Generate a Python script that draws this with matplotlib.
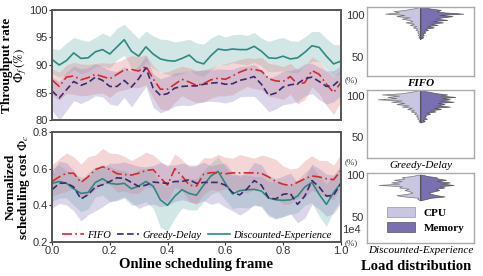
import numpy as np
import matplotlib.pyplot as plt
from matplotlib.patches import Patch

plt.rcParams['font.family'] = 'Liberation Sans'
plt.rcParams['mathtext.fontset'] = 'stix'

# online scheduling frame (x1e4)
frames = np.arange(0, 10001, 250) / 1e4

# ---------- throughput rate (%) ----------
thr_fifo = [87.3, 86.1, 87.8, 88.0, 87.3, 87.7, 88.3, 87.9, 87.5, 88.3, 89.1, 89.2, 88.9, 89.8,
            87.5, 85.6, 85.6, 86.5, 87.4, 86.9, 86.3, 86.6, 87.3, 87.6, 87.4, 88.0, 88.7, 89.2,
            89.2, 88.9, 87.5, 87.1, 87.0, 87.9, 86.5, 86.8, 89.0, 88.3, 86.5, 85.0, 86.8]
thr_greedy = [85.3, 84.0, 85.5, 87.0, 86.3, 86.8, 87.8, 87.2, 86.1, 86.1, 87.2, 86.0, 87.5, 89.5,
              85.8, 84.5, 84.8, 85.8, 86.1, 86.2, 86.2, 86.5, 86.7, 86.8, 86.5, 86.6, 87.2, 87.5,
              87.9, 86.5, 84.5, 84.9, 86.0, 86.4, 86.6, 87.5, 87.8, 87.0, 86.1, 86.3, 87.5]
thr_disc = [91.0, 90.0, 90.8, 92.2, 91.2, 91.3, 92.4, 92.8, 92.0, 93.3, 94.6, 92.5, 91.6, 93.3,
            92.0, 91.1, 90.8, 90.7, 91.2, 91.8, 90.6, 90.2, 91.7, 92.9, 92.7, 92.9, 92.8, 92.8,
            93.4, 92.5, 91.3, 91.2, 91.6, 91.1, 91.3, 92.3, 93.5, 93.2, 91.6, 90.2, 90.7]
thr_fifo_up = [2.0, 2.6, 2.2, 2.5, 2.9, 2.4, 2.0, 2.5, 2.8, 2.3, 2.0, 2.5, 2.6, 2.0, 2.4, 3.0, 3.2,
               2.8, 2.4, 2.6, 2.7, 2.5, 2.2, 2.4, 2.8, 2.6, 2.3, 2.1, 2.0, 2.5, 2.8, 3.0, 2.7, 2.4,
               2.6, 2.9, 2.5, 2.3, 2.6, 2.8, 2.4]
thr_fifo_dn = [2.8, 2.5, 3.0, 3.3, 2.9, 3.2, 3.5, 3.0, 3.4, 3.1, 3.6, 3.3, 3.0, 3.4, 3.5, 3.6, 3.8,
               3.3, 3.0, 3.2, 3.1, 3.4, 3.3, 3.2, 3.0, 3.4, 3.3, 3.1, 3.5, 3.4, 3.2, 3.0, 3.3, 3.2,
               3.6, 3.1, 3.0, 3.5, 3.9, 4.0, 3.5]
thr_greedy_up = [2.5, 3.0, 3.2, 2.8, 3.0, 2.7, 2.4, 2.6, 2.9, 2.7, 2.5, 2.8, 2.3, 2.2, 2.6, 3.0,
                 3.1, 2.8, 2.6, 2.9, 2.7, 2.6, 2.4, 2.5, 2.7, 2.6, 2.5, 2.3, 2.2, 2.6, 3.1, 3.2,
                 2.9, 2.6, 2.8, 2.7, 2.5, 2.6, 2.8, 2.7, 2.4]
thr_greedy_dn = [3.5, 4.0, 3.8, 3.5, 3.3, 3.2, 3.4, 3.0, 3.2, 3.5, 3.1, 3.6, 3.3, 3.4, 3.5, 3.2,
                 3.0, 3.3, 3.4, 3.6, 3.2, 3.1, 3.3, 3.5, 3.4, 3.2, 3.0, 3.2, 3.6, 3.5, 3.0, 2.9,
                 3.2, 3.4, 3.3, 3.1, 3.0, 3.3, 3.2, 3.0, 3.1]
thr_disc_up = [2.0, 2.8, 3.2, 2.8, 3.4, 3.0, 2.6, 3.0, 3.2, 3.4, 2.8, 3.6, 3.2, 2.9, 3.3, 3.6,
               3.8, 3.5, 3.2, 2.9, 3.4, 3.6, 3.2, 2.7, 2.4, 2.6, 2.8, 2.6, 2.5, 2.4, 3.0, 3.5,
               3.4, 3.3, 3.0, 2.8, 2.6, 2.9, 3.2, 3.5, 3.0]
thr_disc_dn = [2.5, 2.2, 2.6, 3.0, 2.8, 2.5, 2.7, 2.9, 2.6, 2.4, 2.8, 3.0, 2.5, 2.7, 2.6, 2.4,
               2.5, 2.7, 2.8, 2.6, 2.4, 2.3, 2.6, 2.8, 2.7, 2.5, 2.6, 2.8, 2.9, 2.7, 2.5, 2.4,
               2.6, 2.5, 2.7, 2.6, 2.8, 2.6, 2.4, 2.2, 2.3]

# ---------- normalized scheduling cost ----------
cost_fifo = [0.530, 0.555, 0.575, 0.575, 0.525, 0.555, 0.595, 0.610, 0.595, 0.573, 0.568, 0.565,
             0.575, 0.590, 0.595, 0.550, 0.510, 0.600, 0.560, 0.510, 0.505, 0.570, 0.578, 0.578,
             0.572, 0.577, 0.577, 0.577, 0.577, 0.574, 0.555, 0.530, 0.515, 0.508, 0.525, 0.545,
             0.560, 0.555, 0.545, 0.540, 0.590]
cost_greedy = [0.485, 0.520, 0.522, 0.500, 0.435, 0.458, 0.500, 0.512, 0.530, 0.550, 0.547, 0.525,
               0.503, 0.510, 0.527, 0.523, 0.520, 0.530, 0.530, 0.540, 0.520, 0.525, 0.525, 0.525,
               0.510, 0.470, 0.457, 0.490, 0.535, 0.510, 0.440, 0.435, 0.460, 0.465, 0.405, 0.450,
               0.535, 0.500, 0.450, 0.455, 0.520]
cost_disc = [0.520, 0.530, 0.520, 0.490, 0.465, 0.470, 0.525, 0.545, 0.520, 0.515, 0.520, 0.490,
             0.505, 0.530, 0.505, 0.430, 0.400, 0.450, 0.485, 0.465, 0.455, 0.510, 0.560, 0.585,
             0.520, 0.462, 0.480, 0.485, 0.487, 0.478, 0.440, 0.430, 0.427, 0.430, 0.450, 0.500,
             0.525, 0.460, 0.405, 0.470, 0.520]
cost_fifo_up = [0.09, 0.10, 0.11, 0.09, 0.10, 0.11, 0.08, 0.10, 0.09, 0.11, 0.10, 0.08, 0.09, 0.10,
                0.08, 0.09, 0.10, 0.08, 0.09, 0.10, 0.11, 0.09, 0.08, 0.10, 0.09, 0.08, 0.10, 0.09,
                0.08, 0.10, 0.11, 0.12, 0.10, 0.09, 0.08, 0.10, 0.11, 0.09, 0.10, 0.08, 0.09]
cost_fifo_dn = [0.08, 0.09, 0.10, 0.08, 0.09, 0.10, 0.11, 0.09, 0.08, 0.10, 0.09, 0.10, 0.11, 0.09,
                0.10, 0.11, 0.09, 0.10, 0.08, 0.09, 0.10, 0.11, 0.09, 0.10, 0.08, 0.09, 0.10, 0.11,
                0.09, 0.08, 0.10, 0.09, 0.11, 0.10, 0.09, 0.10, 0.08, 0.09, 0.10, 0.11, 0.09]
cost_greedy_up = [0.10, 0.12, 0.11, 0.09, 0.10, 0.12, 0.11, 0.09, 0.10, 0.08, 0.09, 0.10, 0.11,
                  0.10, 0.09, 0.11, 0.10, 0.09, 0.10, 0.08, 0.10, 0.11, 0.09, 0.10, 0.12, 0.11,
                  0.10, 0.09, 0.10, 0.11, 0.12, 0.11, 0.10, 0.11, 0.12, 0.10, 0.09, 0.10, 0.12,
                  0.11, 0.10]
cost_greedy_dn = [0.10, 0.11, 0.12, 0.13, 0.12, 0.11, 0.13, 0.12, 0.11, 0.12, 0.10, 0.11, 0.12,
                  0.11, 0.12, 0.13, 0.12, 0.11, 0.10, 0.12, 0.11, 0.10, 0.12, 0.11, 0.12, 0.10,
                  0.11, 0.12, 0.13, 0.12, 0.10, 0.11, 0.12, 0.11, 0.10, 0.12, 0.13, 0.12, 0.11,
                  0.10, 0.11]
cost_disc_up = [0.08, 0.09, 0.07, 0.08, 0.09, 0.08, 0.07, 0.08, 0.09, 0.08, 0.07, 0.08, 0.09,
                0.07, 0.08, 0.09, 0.10, 0.08, 0.07, 0.08, 0.09, 0.08, 0.07, 0.08, 0.09, 0.10,
                0.09, 0.08, 0.07, 0.08, 0.09, 0.10, 0.09, 0.08, 0.09, 0.08, 0.09, 0.10, 0.11,
                0.09, 0.08]
cost_disc_dn = [0.10, 0.09, 0.08, 0.09, 0.10, 0.09, 0.08, 0.09, 0.10, 0.09, 0.08, 0.09, 0.10,
                0.11, 0.12, 0.15, 0.14, 0.12, 0.10, 0.09, 0.08, 0.09, 0.10, 0.11, 0.09, 0.08,
                0.09, 0.10, 0.09, 0.08, 0.09, 0.10, 0.09, 0.08, 0.09, 0.10, 0.11, 0.12, 0.12,
                0.10, 0.09]

# ---------- load distribution (mirrored: CPU left, Memory right) ----------
load_fifo = np.arange(72, 111.5, 1.5)
cpu_fifo = [0, 0.04, 0.02, 0.05, 0.03, 0.06, 0.04, 0.09, 0.06, 0.14, 0.08, 0.20, 0.12, 0.28,
            0.15, 0.22, 0.35, 0.20, 0.45, 0.30, 0.66, 0.40, 0.50, 0.30, 0.15, 0.05, 0]
mem_fifo = [0, 0.05, 0.03, 0.06, 0.04, 0.09, 0.06, 0.14, 0.08, 0.25, 0.12, 0.32, 0.18, 0.42,
            0.22, 0.50, 0.28, 0.40, 0.60, 0.35, 0.80, 0.45, 0.30, 0.38, 0.20, 0.08, 0]
load_greedy = np.arange(68, 110, 1.5)
cpu_greedy = [0, 0.04, 0.02, 0.06, 0.04, 0.08, 0.05, 0.12, 0.08, 0.18, 0.12, 0.25, 0.16, 0.35,
              0.22, 0.45, 0.30, 0.55, 0.35, 0.80, 0.45, 0.62, 0.40, 0.72, 0.35, 0.20, 0.08, 0]
mem_greedy = [0, 0.08, 0.04, 0.12, 0.06, 0.10, 0.08, 0.18, 0.12, 0.28, 0.18, 0.38, 0.25, 0.55,
              0.30, 0.45, 0.32, 0.62, 0.35, 0.55, 0.40, 0.65, 0.38, 0.50, 0.30, 0.18, 0.06, 0]
load_disc = np.arange(70, 101, 1.5)
cpu_disc = [0, 0.06, 0.04, 0.30, 0.45, 0.25, 0.15, 0.20, 0.30, 0.22, 0.40, 0.35, 0.78, 0.40,
            0.55, 0.35, 0.50, 0.30, 0.35, 0.15, 0.05]
mem_disc = [0, 0.10, 0.20, 0.45, 0.30, 0.20, 0.15, 0.25, 0.35, 0.28, 0.45, 0.35, 0.62, 0.40,
            0.55, 0.30, 0.48, 0.32, 0.30, 0.12, 0.04]

c_fifo, c_greedy, c_disc = '#d42a2a', '#3b2a72', '#2a8a80'
f_fifo, f_greedy, f_disc = '#e08a8a', '#9a8cc0', '#80bdb6'
c_cpu, c_mem = '#c9c6e2', '#7a6fb0'
serif = 'Liberation Serif'

fig = plt.figure(figsize=(4.83, 2.76), dpi=100)
ax1 = fig.add_axes([0.1077, 0.5652, 0.598, 0.3986])
ax2 = fig.add_axes([0.1077, 0.1232, 0.598, 0.3986])

x = frames
for ax, data in [
    (ax1, [(thr_disc, thr_disc_up, thr_disc_dn, c_disc, f_disc, '-', 'Discounted-Experience'),
           (thr_fifo, thr_fifo_up, thr_fifo_dn, c_fifo, f_fifo, (0, (6, 2, 1, 2)), 'FIFO'),
           (thr_greedy, thr_greedy_up, thr_greedy_dn, c_greedy, f_greedy, (0, (4, 2)), 'Greedy-Delay')]),
    (ax2, [(cost_disc, cost_disc_up, cost_disc_dn, c_disc, f_disc, '-', 'Discounted-Experience'),
           (cost_fifo, cost_fifo_up, cost_fifo_dn, c_fifo, f_fifo, (0, (6, 2, 1, 2)), 'FIFO'),
           (cost_greedy, cost_greedy_up, cost_greedy_dn, c_greedy, f_greedy, (0, (4, 2)), 'Greedy-Delay')])]:
    for m, up, dn, lc, fc, ls, lab in data:
        m = np.array(m)
        ax.fill_between(x, m - np.array(dn), m + np.array(up), color=fc, alpha=0.35, lw=0)
    for m, up, dn, lc, fc, ls, lab in data:
        ax.plot(x, m, color=lc, ls=ls, lw=1.2, label=lab)
    ax.set_xlim(0, 1)
    for s in ax.spines.values():
        s.set_color('#555555')
        s.set_linewidth(1.4)
    ax.tick_params(labelsize=8, length=2, colors='#333333', pad=1)

ax1.set_ylim(80, 100)
ax1.set_yticks([80, 85, 90, 95, 100])
ax1.set_xticks([])
ax1.set_ylabel('Throughput rate\n$\\Phi_f\\,(\\%)$', fontfamily=serif, fontweight='bold',
               fontsize=9.5, labelpad=0, linespacing=1.0)

ax2.set_ylim(0.2, 0.8)
ax2.set_yticks([0.2, 0.4, 0.6, 0.8])
ax2.set_xticks([0, 0.2, 0.4, 0.6, 0.8, 1.0])
ax2.set_ylabel('Normalized\nscheduling cost $\\Phi_c$', fontfamily=serif, fontweight='bold',
               fontsize=9.5, labelpad=0, linespacing=1.0)
ax2.set_xlabel('Online scheduling frame', fontfamily=serif, fontweight='bold', fontsize=10.5,
               labelpad=1)
ax2.text(1.005, 0.11, '1e4', transform=ax2.transAxes, fontsize=8, color='#333333',
         ha='left', va='center')
h, l = ax2.get_legend_handles_labels()
order = [1, 2, 0]
ax2.legend([h[i] for i in order], [l[i] for i in order], loc='lower center', ncol=3,
           frameon=False, prop={'family': serif, 'style': 'italic', 'size': 7.6},
           handlelength=2.1, columnspacing=0.6, handletextpad=0.3, borderpad=0.1,
           borderaxespad=0.1)

# right panels
panels = [
    ([0.7598, 0.7246, 0.2215, 0.25], load_fifo, cpu_fifo, mem_fifo, (27, 110), 'FIFO', 'bold', -0.06),
    ([0.7598, 0.4275, 0.2215, 0.2464], load_greedy, cpu_greedy, mem_greedy, (24, 108), 'Greedy-Delay', 'normal', -0.06),
    ([0.7598, 0.1196, 0.2215, 0.2536], load_disc, cpu_disc, mem_disc, (20, 102), 'Discounted-Experience', 'normal', 0.0),
]
rax = []
for rect, lv, cpu, mem, ylim, name, wt, py in panels:
    ax = fig.add_axes(rect)
    ax.fill_betweenx(lv, -np.array(cpu), 0, color=c_cpu, edgecolor='#777777', lw=0.5)
    ax.fill_betweenx(lv, 0, np.array(mem), color=c_mem, edgecolor='#555555', lw=0.5)
    ax.plot([0, 0], [lv[0], lv[-1]], color='#555555', lw=0.8)
    ax.set_xlim(-1, 1)
    ax.set_ylim(*ylim)
    ax.set_xticks([])
    ax.set_yticks([50, 100])
    ax.tick_params(axis='y', labelsize=8, length=0, labelcolor='#333333', pad=2)
    for s in ax.spines.values():
        s.set_color('#aaaaaa')
        s.set_linewidth(1.0)
    ax.text(-0.21, py, '(%)', transform=ax.transAxes, fontsize=6.5, color='#333333',
            ha='left', va='center', fontfamily=serif)
    ax.text(0.5, -0.04, name, transform=ax.transAxes, fontsize=8, ha='center', va='top',
            fontfamily=serif, style='italic', fontweight=wt)
    rax.append(ax)

rax[-1].legend(handles=[Patch(facecolor=c_cpu, edgecolor='#999999', lw=0.5, label='CPU'),
                        Patch(facecolor=c_mem, edgecolor='#555555', lw=0.5, label='Memory')],
               loc='lower center', bbox_to_anchor=(0.55, 0.0), frameon=False,
               prop={'family': serif, 'weight': 'bold', 'size': 8}, handlelength=2.5,
               handleheight=1.0, labelspacing=0.4)
fig.text(0.862, 0.035, 'Load distribution', fontfamily=serif, fontweight='bold', fontsize=10.5,
         ha='center', va='center')

fig.savefig('out.png', dpi=100)
